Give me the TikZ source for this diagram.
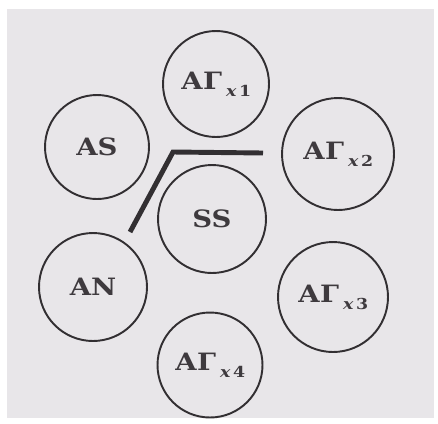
\documentclass[tikz,border=0pt]{standalone}
\usepackage{fontspec}
\setmainfont{DejaVu Serif}
\newfontfamily\unitfont[FakeStretch=1.15]{DejaVu Serif}
\usepackage{xcolor}
\definecolor{paper}{RGB}{232,230,233}
\definecolor{ink}{RGB}{50,47,50}
\definecolor{print}{RGB}{62,58,62}
\newcommand{\agx}[1]{АГ\,\raisebox{-4pt}{\fontsize{8.6}{10}\selectfont\itshape x\upshape\,#1}}

\begin{document}
\begin{tikzpicture}[
  x=0.02cm, y=-0.02cm,
  unit/.style={draw=ink, circle, line width=1.1pt, align=center, text=print, font=\unitfont\bfseries\fontsize{13.6}{16}\selectfont},
  barrier/.style={draw=ink, line width=2.8pt}
]
% paper
\fill[white] (0,0) rectangle (438,423);
\fill[paper] (7,9) rectangle (434,418);
\useasboundingbox (0,0) rectangle (438,423);
% units
\node[unit, minimum size=2.12cm] (ag1) at (216,84) {\agx{1}};
\node[unit, minimum size=2.08cm] (as) at (97,147) {AS};
\node[unit, minimum size=2.24cm] (ag2) at (338,154) {\agx{2}};
\node[unit, minimum size=2.16cm] (ss) at (212,219) {SS};
\node[unit, minimum size=2.16cm] (an) at (93,287) {AN};
\node[unit, minimum size=2.20cm] (ag3) at (333,297) {\agx{3}};
\node[unit, minimum size=2.10cm] (ag4) at (210,365) {\agx{4}};
% barrier line
\coordinate (b1) at (263,153);
\coordinate (b2) at (173,152);
\coordinate (b3) at (130,232);
\draw[barrier] (b1) -- (b2) -- (b3);
\end{tikzpicture}
\end{document}
